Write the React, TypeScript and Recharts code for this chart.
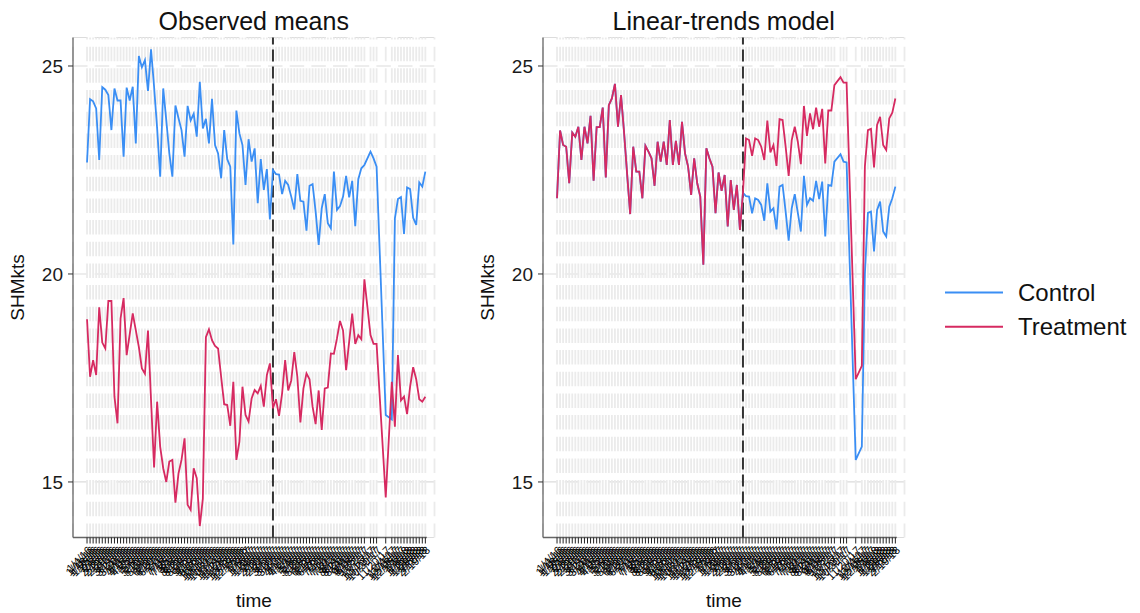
import React from 'react';
import { LineChart, Line, XAxis, YAxis, CartesianGrid, ReferenceLine } from 'recharts';

// week index of each observation (a few weeks have no data)
const weeks = [
  0, 1, 2, 3, 4, 5, 6, 7, 8, 9, 10, 11, 12, 13, 14, 15, 16, 17, 18, 19,
  20, 21, 22, 23, 24, 25, 26, 27, 28, 29, 30, 31, 32, 33, 34, 35, 36, 37, 38, 39,
  40, 41, 42, 43, 44, 45, 46, 47, 48, 49, 50, 51, 52, 53, 54, 55, 56, 57, 58, 59,
  60, 61, 62, 63, 64, 65, 66, 67, 68, 69, 70, 71, 72, 73, 74, 75, 76, 77, 78, 79,
  80, 81, 82, 83, 84, 85, 86, 87, 88, 89, 90, 91, 93, 94, 95, 98,
  100, 101, 102, 103, 104, 105, 106, 107, 108, 109, 110, 111,
];

const timeLabels = [
  '1/4/16', '1/11/16', '1/18/16', '1/25/16', '2/1/16', '2/8/16', '2/15/16', '2/22/16', '2/29/16', '3/7/16',
  '3/14/16', '3/21/16', '3/28/16', '4/4/16', '4/11/16', '4/18/16', '4/25/16', '5/2/16', '5/9/16', '5/16/16',
  '5/23/16', '5/30/16', '6/6/16', '6/13/16', '6/20/16', '6/27/16', '7/4/16', '7/11/16', '7/18/16', '7/25/16',
  '8/1/16', '8/8/16', '8/15/16', '8/22/16', '8/29/16', '9/5/16', '9/12/16', '9/19/16', '9/26/16', '10/3/16',
  '10/10/16', '10/17/16', '10/24/16', '10/31/16', '11/7/16', '11/14/16', '11/21/16', '11/28/16', '12/5/16', '12/12/16',
  '12/19/16', '12/26/16', '1/2/17', '1/9/17', '1/16/17', '1/23/17', '1/30/17', '2/6/17', '2/13/17', '2/20/17',
  '2/27/17', '3/6/17', '3/13/17', '3/20/17', '3/27/17', '4/3/17', '4/10/17', '4/17/17', '4/24/17', '5/1/17',
  '5/8/17', '5/15/17', '5/22/17', '5/29/17', '6/5/17', '6/12/17', '6/19/17', '6/26/17', '7/3/17', '7/10/17',
  '7/17/17', '7/24/17', '7/31/17', '8/7/17', '8/14/17', '8/21/17', '8/28/17', '9/4/17', '9/11/17', '9/18/17',
  '9/25/17', '10/2/17', '10/16/17', '10/23/17', '10/30/17', '11/20/17', '12/4/17', '12/11/17', '12/18/17', '12/25/17',
  '1/1/18', '1/8/18', '1/15/18', '1/22/18', '1/29/18', '2/5/18', '2/12/18', '2/19/18',
];

const obsControl = [
  22.68, 24.2, 24.15, 23.98, 22.74, 24.49, 24.43, 24.3, 23.46, 24.46,
  24.17, 24.17, 22.82, 24.48, 24.17, 24.5, 23.14, 25.24, 24.97, 25.14,
  24.4, 25.4, 24.5, 23.5, 22.34, 24.46, 23.7, 22.9, 22.34, 24.05,
  23.75, 23.46, 22.82, 24.04, 23.69, 23.85, 23.3, 24.62, 23.5, 23.73,
  23.14, 24.21, 23.1, 22.9, 22.3, 23.46, 22.76, 22.58, 20.71, 23.93,
  23.38, 23.1, 22.14, 23.24, 22.7, 23.02, 21.7, 22.76, 22.02, 22.52,
  21.31, 22.5, 22.4, 22.39, 21.92, 22.24, 22.14, 21.86, 21.55, 22.4,
  21.76, 21.74, 21.04, 22.12, 22.16, 21.5, 20.7, 21.58, 21.92, 21.22,
  21.1, 22.46, 21.54, 21.63, 21.86, 22.36, 21.84, 22.24, 21.15, 22.28,
  22.54, 22.62, 22.94, 22.78, 22.58, 16.61,
  16.5, 21.34, 21.8, 21.85, 20.96, 22.08, 22.04, 21.35, 21.18, 22.2, 22.1, 22.46,
];

const obsTreatment = [
  18.91, 17.53, 17.93, 17.57, 19.2, 18.35, 18.21, 19.35, 19.35, 17.05,
  16.41, 18.93, 19.42, 18.05, 18.55, 19.05, 18.65, 18.25, 17.73, 17.6,
  18.64, 16.97, 15.35, 16.93, 15.85, 15.33, 15.0, 15.49, 15.53, 14.5,
  15.2, 15.53, 16.05, 14.45, 14.33, 15.33, 15.09, 13.94, 14.6, 18.48,
  18.67, 18.41, 18.27, 18.21, 17.53, 16.87, 16.85, 16.35, 17.41, 15.53,
  15.97, 17.29, 16.61, 16.45, 17.01, 17.21, 17.13, 17.31, 16.81, 17.57,
  17.85, 16.77, 16.99, 16.59, 17.13, 17.93, 17.2, 17.44, 18.12, 17.53,
  16.43, 17.25, 17.61, 17.47, 16.81, 16.39, 17.2, 16.25, 17.25, 17.27,
  18.09, 18.08, 18.45, 18.87, 18.64, 17.69, 18.37, 19.05, 18.32, 18.53,
  18.43, 19.87, 18.53, 18.32, 18.32, 14.63,
  17.41, 16.33, 18.05, 16.96, 17.05, 16.63, 17.29, 17.76, 17.47, 16.99, 16.93, 17.05,
];

// linear-trends model: both groups share the fitted path before the intervention
const modelPre = [
  21.82, 23.45, 23.1, 23.06, 22.18, 23.4, 23.3, 23.54, 22.74, 23.54,
  23.14, 23.8, 22.24, 23.53, 23.53, 24.0, 22.32, 24.06, 24.22, 24.57,
  23.54, 24.3, 23.4, 22.4, 21.44, 23.06, 22.46, 22.46, 21.82, 23.08,
  22.94, 22.78, 22.12, 23.18, 22.7, 23.18, 22.62, 23.7, 22.62, 23.2,
  22.62, 23.66, 22.9, 22.58, 21.9, 22.78, 22.18, 21.86, 20.22, 23.02,
  22.78, 22.58, 21.46, 22.44, 22.0, 22.38, 21.14, 22.26, 21.54, 22.14,
  21.06, 21.95,
];

const modelControlPost = [
  21.87, 21.86, 21.46, 21.82, 21.78, 21.66, 21.28, 22.18, 21.5, 21.58,
  21.07, 22.1, 22.14, 21.5, 20.8, 21.58, 21.92, 21.47, 21.02, 22.36,
  21.66, 21.82, 21.76, 22.24, 21.8, 22.22, 20.9, 22.14, 22.12, 22.7,
  22.88, 22.7, 22.68, 15.53,
  15.85, 20.0, 21.47, 21.5, 20.54, 21.54, 21.74, 21.02, 20.9, 21.62, 21.82, 22.1,
];

const modelTreatmentPost = [
  23.26, 23.22, 22.84, 23.26, 23.22, 23.06, 22.74, 23.69, 22.92, 23.1,
  22.6, 23.72, 23.7, 23.06, 22.36, 23.22, 23.54, 23.18, 22.64, 24.04,
  23.32, 23.86, 23.48, 24.0, 23.54, 23.97, 22.66, 23.93, 23.93, 24.54,
  24.73, 24.6, 24.6, 17.47,
  17.79, 22.58, 23.46, 23.49, 22.56, 23.58, 23.78, 23.1, 22.98, 23.74, 23.88, 24.22,
];

const modelControl = [...modelPre, ...modelControlPost];
const modelTreatment = [...modelPre, ...modelTreatmentPost];

const yTicks = [15, 20, 25];
const interventionWeek = 61;

const FONT = '"Liberation Sans", Arial, Helvetica, sans-serif';
const BLUE = '#3a8ef4';
const RED = '#d62a61';
const Y_MIN = 13.665;
const Y_MAX = 25.685;
const X_MIN = -4.6;
const X_MAX = 114;

const labelOf: Record<number, string> = {};
weeks.forEach((w, i) => {
  labelOf[w] = timeLabels[i];
});

function Panel({ left, control, treatment }: { left: number; control: number[]; treatment: number[] }) {
  const rows = weeks.map((t, i) => ({ t, control: control[i], treatment: treatment[i] }));
  return (
    <div style={{ position: 'absolute', left, top: 0 }}>
      <LineChart
        width={445}
        height={613}
        data={rows}
        margin={{ top: 37.5, right: 10.5, bottom: 0, left: 0 }}
        style={{ fontFamily: FONT }}
      >
        <CartesianGrid vertical={false} stroke="#dcdcdc" strokeWidth={1.2} strokeDasharray="14.5 7.17" />
        <CartesianGrid
          horizontal={false}
          stroke="#ebebeb"
          strokeWidth={1.8}
          strokeDasharray="14.5 7.17"
          strokeDashoffset={12.47}
        />
        <XAxis
          type="number"
          dataKey="t"
          domain={[X_MIN, X_MAX]}
          ticks={weeks}
          interval={0}
          allowDataOverflow
          tickFormatter={(v) => labelOf[v]}
          height={75.5}
          axisLine={false}
          tickSize={6}
          tickLine={{ stroke: '#222' }}
          angle={-45}
          textAnchor="end"
          tick={{ fontSize: 11, fill: '#000', fontFamily: FONT }}
        />
        <YAxis
          type="number"
          domain={[Y_MIN, Y_MAX]}
          ticks={yTicks}
          allowDataOverflow
          width={73}
          tickSize={5}
          tickMargin={5}
          tickLine={{ stroke: '#333' }}
          axisLine={{ stroke: '#666', strokeWidth: 1.3 }}
          tick={{ fontSize: 19, fill: '#1a1a1a', fontFamily: FONT }}
        />
        <ReferenceLine
          segment={[
            { x: X_MIN, y: Y_MIN },
            { x: 111.5, y: Y_MIN },
          ]}
          stroke="#666"
          strokeWidth={1.3}
        />
        <ReferenceLine x={interventionWeek} stroke="#333" strokeWidth={2} strokeDasharray="12 5" />
        <Line type="linear" dataKey="control" stroke={BLUE} strokeWidth={1.8} dot={false} isAnimationActive={false} />
        <Line type="linear" dataKey="treatment" stroke={RED} strokeWidth={1.8} dot={false} isAnimationActive={false} />
      </LineChart>
    </div>
  );
}

export default function App() {
  return (
    <div style={{ position: 'absolute', left: 0, top: 0, width: 1140, height: 613, background: '#fff', fontFamily: FONT }}>
      <Panel left={0} control={obsControl} treatment={obsTreatment} />
      <Panel left={470} control={modelControl} treatment={modelTreatment} />
      <svg width={1140} height={613} style={{ position: 'absolute', left: 0, top: 0, pointerEvents: 'none' }}>
        <g fontFamily={FONT} fill="#111">
          <text x={253.75} y={30} textAnchor="middle" fontSize={25}>Observed means</text>
          <text x={723.75} y={30} textAnchor="middle" fontSize={25}>Linear-trends model</text>
          <text x={254} y={607} textAnchor="middle" fontSize={19}>time</text>
          <text x={724} y={607} textAnchor="middle" fontSize={19}>time</text>
          <text x={24} y={287.5} textAnchor="middle" fontSize={19} transform="rotate(-90 24 287.5)">SHMkts</text>
          <text x={494} y={287.5} textAnchor="middle" fontSize={19} transform="rotate(-90 494 287.5)">SHMkts</text>
          <line x1={945} x2={1003} y1={292.5} y2={292.5} stroke={BLUE} strokeWidth={2} />
          <line x1={945} x2={1003} y1={326.7} y2={326.7} stroke={RED} strokeWidth={2} />
          <text x={1018} y={301} fontSize={24}>Control</text>
          <text x={1018} y={335.3} fontSize={24}>Treatment</text>
        </g>
      </svg>
    </div>
  );
}
